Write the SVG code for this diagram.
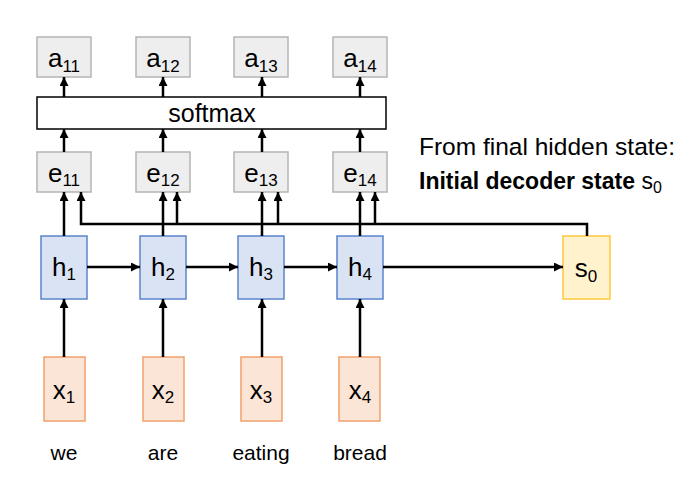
<svg xmlns="http://www.w3.org/2000/svg" width="688" height="503" viewBox="0 0 688 503">
<defs>
<marker id="ah" viewBox="0 0 10 10" refX="10" refY="5" markerWidth="9" markerHeight="9" markerUnits="userSpaceOnUse" orient="auto">
<path d="M0,0 L10,5 L0,10 z" fill="#000"/>
</marker>
</defs>
<style>
text{font-family:"Liberation Sans",Arial,sans-serif;fill:#000}
.lbl{font-size:26px;text-anchor:middle}
.sub{font-size:17px}
.gray{fill:#eeeeee;stroke:#b4b4b4;stroke-width:1.5}
.h{fill:#dae3f3;stroke:#5b85cc;stroke-width:1.5}
.s{fill:#fff2cc;stroke:#fdc83a;stroke-width:1.5}
.x{fill:#fbe5d6;stroke:#f1a06c;stroke-width:1.5}
.c{fill:none;stroke:#000;stroke-width:2.5}
.word{font-size:21px;text-anchor:middle}
</style>
<rect width="688" height="503" fill="#fff"/>

<g id="a11"><rect class="gray" x="37" y="37" width="54" height="40"/><text class="lbl" x="64" y="67">a<tspan class="sub" dy="5">11</tspan></text></g>
<g id="a12"><rect class="gray" x="136" y="37" width="54" height="40"/><text class="lbl" x="163" y="67">a<tspan class="sub" dy="5">12</tspan></text></g>
<g id="a13"><rect class="gray" x="234" y="37" width="54" height="40"/><text class="lbl" x="261" y="67">a<tspan class="sub" dy="5">13</tspan></text></g>
<g id="a14"><rect class="gray" x="333" y="37" width="54" height="40"/><text class="lbl" x="360" y="67">a<tspan class="sub" dy="5">14</tspan></text></g>

<g id="softmax"><rect x="37" y="97" width="349" height="32" fill="#fff" stroke="#000" stroke-width="1.5"/><text x="212" y="122" style="font-size:25px;text-anchor:middle">softmax</text></g>

<g id="e11"><rect class="gray" x="37" y="152" width="54" height="40"/><text class="lbl" x="64" y="182">e<tspan class="sub" dy="4">11</tspan></text></g>
<g id="e12"><rect class="gray" x="136" y="152" width="54" height="40"/><text class="lbl" x="163" y="182">e<tspan class="sub" dy="4">12</tspan></text></g>
<g id="e13"><rect class="gray" x="234" y="152" width="54" height="40"/><text class="lbl" x="261" y="182">e<tspan class="sub" dy="4">13</tspan></text></g>
<g id="e14"><rect class="gray" x="333" y="152" width="54" height="40"/><text class="lbl" x="360" y="182">e<tspan class="sub" dy="4">14</tspan></text></g>

<g id="h1"><rect class="h" x="41" y="236" width="46" height="63"/><text class="lbl" x="64" y="276">h<tspan class="sub" dy="4">1</tspan></text></g>
<g id="h2"><rect class="h" x="140" y="236" width="46" height="63"/><text class="lbl" x="163" y="276">h<tspan class="sub" dy="4">2</tspan></text></g>
<g id="h3"><rect class="h" x="238" y="236" width="46" height="63"/><text class="lbl" x="261" y="276">h<tspan class="sub" dy="4">3</tspan></text></g>
<g id="h4"><rect class="h" x="337" y="236" width="46" height="63"/><text class="lbl" x="360" y="276">h<tspan class="sub" dy="4">4</tspan></text></g>

<g id="s0"><rect class="s" x="563" y="236" width="47" height="63"/><text class="lbl" x="586" y="277">s<tspan class="sub" dy="5">0</tspan></text></g>

<g id="x1"><rect class="x" x="44" y="357" width="41" height="64"/><text class="lbl" x="64" y="399">x<tspan class="sub" dy="4">1</tspan></text></g>
<g id="x2"><rect class="x" x="143" y="357" width="41" height="64"/><text class="lbl" x="163" y="399">x<tspan class="sub" dy="4">2</tspan></text></g>
<g id="x3"><rect class="x" x="241" y="357" width="41" height="64"/><text class="lbl" x="261" y="399">x<tspan class="sub" dy="4">3</tspan></text></g>
<g id="x4"><rect class="x" x="339" y="357" width="41" height="64"/><text class="lbl" x="360" y="399">x<tspan class="sub" dy="4">4</tspan></text></g>

<g id="connectors">
<path class="c" marker-end="url(#ah)" d="M64,97 V77"/>
<path class="c" marker-end="url(#ah)" d="M163,97 V77"/>
<path class="c" marker-end="url(#ah)" d="M262,97 V77"/>
<path class="c" marker-end="url(#ah)" d="M360,97 V77"/>

<path class="c" marker-end="url(#ah)" d="M64,152 V129"/>
<path class="c" marker-end="url(#ah)" d="M163,152 V129"/>
<path class="c" marker-end="url(#ah)" d="M262,152 V129"/>
<path class="c" marker-end="url(#ah)" d="M360,152 V129"/>

<path class="c" marker-end="url(#ah)" d="M64,236 V192"/>
<path class="c" marker-end="url(#ah)" d="M163,236 V192"/>
<path class="c" marker-end="url(#ah)" d="M262,236 V192"/>
<path class="c" marker-end="url(#ah)" d="M360,236 V192"/>

<path class="c" marker-end="url(#ah)" d="M587,236 V224 H81 V192"/>
<path class="c" marker-end="url(#ah)" d="M177,224 V192"/>
<path class="c" marker-end="url(#ah)" d="M278,224 V192"/>
<path class="c" marker-end="url(#ah)" d="M375,224 V192"/>

<path class="c" marker-end="url(#ah)" d="M87,267 H140"/>
<path class="c" marker-end="url(#ah)" d="M186,267 H238"/>
<path class="c" marker-end="url(#ah)" d="M284,267 H337"/>
<path class="c" marker-end="url(#ah)" d="M383,267 H563"/>

<path class="c" marker-end="url(#ah)" d="M64,357 V299"/>
<path class="c" marker-end="url(#ah)" d="M163,357 V299"/>
<path class="c" marker-end="url(#ah)" d="M262,357 V299"/>
<path class="c" marker-end="url(#ah)" d="M360,357 V299"/>
</g>

<text x="419" y="155" style="font-size:24.5px">From final hidden state:</text>
<text x="419" y="189" style="font-size:23px"><tspan font-weight="bold">Initial decoder state</tspan> s<tspan style="font-size:16px" dy="4">0</tspan></text>

<text class="word" x="64" y="460">we</text>
<text class="word" x="163" y="460">are</text>
<text class="word" x="261" y="460">eating</text>
<text class="word" x="360" y="460">bread</text>
</svg>
